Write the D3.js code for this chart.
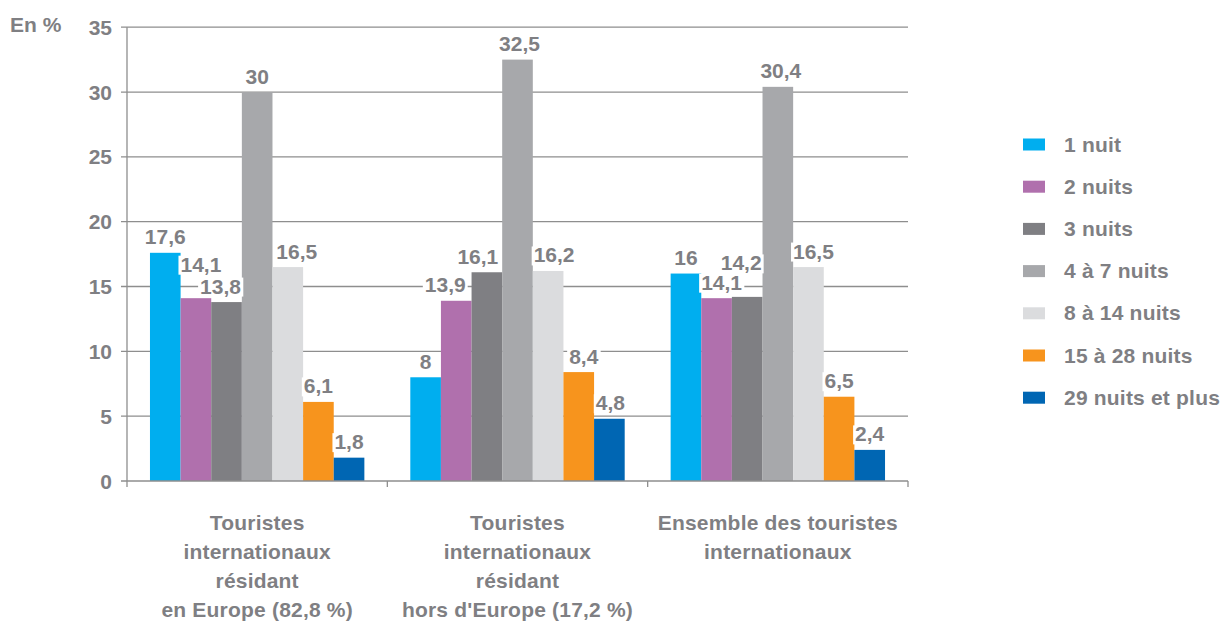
<!DOCTYPE html>
<html><head><meta charset="utf-8">
<script src="https://cdn.jsdelivr.net/npm/d3@7"></script>
<style>body{margin:0;background:#fff}svg{display:block}</style>
</head><body><svg id="c" width="1221" height="621"></svg>
<script>
// ---- data ----
const categories = [
  "Touristes\ninternationaux\nrésidant\nen Europe (82,8 %)",
  "Touristes\ninternationaux\nrésidant\nhors d'Europe (17,2 %)",
  "Ensemble des touristes\ninternationaux"
];
const series = ["1 nuit","2 nuits","3 nuits","4 à 7 nuits","8 à 14 nuits","15 à 28 nuits","29 nuits et plus"];
const valuesEurope = [17.6, 14.1, 13.8, 30, 16.5, 6.1, 1.8];
const valuesHorsEurope = [8, 13.9, 16.1, 32.5, 16.2, 8.4, 4.8];
const valuesEnsemble = [16, 14.1, 14.2, 30.4, 16.5, 6.5, 2.4];
const yTicks = [0, 5, 10, 15, 20, 25, 30, 35];
const yLabel = "En %";

// ---- styles / layout ----
const colors = ["#00aeef","#b070ad","#7f7f83","#a7a8ab","#dbdcde","#f7941d","#0066b3"];
const textColor = "#7f7f83";
const gridColor = "#8e8e8e";
const font = "'Liberation Sans', Arial, sans-serif";
// label nudges [dx, dy] per category, per series (as in the original layout)
const labelNudge = [
  [[0,0],[5,-18],[-6,0],[0,0],[9,0],[0,0],[0,0]],
  [[0,0],[-11,0],[-9,0],[2,0],[6,0],[5,0],[1,0]],
  [[0,0],[5,0],[-6,-18],[3,0],[5,0],[0,0],[0,0]]
];

const table = categories.map((c, i) => ({
  cat: c,
  vals: [valuesEurope, valuesHorsEurope, valuesEnsemble][i]
}));

const svg = d3.select("#c");
const x0 = d3.scaleBand().domain(d3.range(categories.length)).range([127, 908]).padding(0);
const x1 = d3.scaleBand().domain(d3.range(series.length)).range([0, x0.bandwidth()]).paddingInner(0).paddingOuter(0.75);
const y = d3.scaleLinear().domain([0, 35]).range([481, 27.2]);

// gridlines
svg.append("g").selectAll("line").data(yTicks.filter(t => t > 0)).join("line")
  .attr("x1", 121).attr("x2", 908)
  .attr("y1", d => y(d)).attr("y2", d => y(d))
  .attr("stroke", gridColor).attr("stroke-width", 1.3);

// bars
const groups = svg.append("g").selectAll("g").data(table).join("g")
  .attr("transform", (d, i) => `translate(${x0(i)},0)`);
groups.selectAll("rect").data(d => d.vals).join("rect")
  .attr("x", (d, j) => x1(j)).attr("width", x1.bandwidth())
  .attr("y", d => y(d)).attr("height", d => y(0) - y(d))
  .attr("fill", (d, j) => colors[j]);

// axes
const ax = svg.append("g").attr("stroke", gridColor).attr("stroke-width", 1.3);
ax.append("line").attr("x1", 127).attr("x2", 127).attr("y1", y(35)).attr("y2", y(0));
ax.append("line").attr("x1", 121).attr("x2", 908).attr("y1", y(0)).attr("y2", y(0));
const xTickPos = d3.range(categories.length).map(i => x0(i)).concat([x0.range()[1]]);
ax.selectAll(".xt").data(xTickPos).join("line").attr("class","xt")
  .attr("x1", d => d).attr("x2", d => d).attr("y1", y(0)).attr("y2", y(0) + 6);

// y tick labels
svg.append("g").selectAll("text").data(yTicks).join("text")
  .attr("x", 112).attr("y", d => y(d)).attr("dy", "0.36em")
  .attr("text-anchor", "end")
  .style("font", `bold 21px ${font}`).attr("fill", textColor)
  .text(d => d);
svg.append("text").attr("x", 10).attr("y", 32)
  .style("font", `bold 21px ${font}`).attr("fill", textColor).text(yLabel);

// value labels
const fmt = v => String(v).replace(".", ",");
groups.each(function(d, i) {
  const g = d3.select(this);
  d.vals.forEach((v, j) => {
    const [dx, dy] = labelNudge[i][j];
    const cx = x1(j) + x1.bandwidth() / 2 + dx;
    const by = y(v) - 8.5 + dy;
    const lg = g.append("g");
    const rect = lg.append("rect").attr("fill", "#fff");
    const t = lg.append("text").attr("x", cx).attr("y", by)
      .attr("text-anchor", "middle")
      .style("font", `bold 21px ${font}`)
      .attr("fill", textColor).text(fmt(v));
    const bb = t.node().getBBox();
    rect.attr("x", bb.x - 2).attr("y", bb.y + 3).attr("width", bb.width + 4).attr("height", bb.height - 4);
  });
});

// category labels
svg.append("g").selectAll("text").data(categories).join("text")
  .attr("text-anchor", "middle")
  .style("font", `bold 21px ${font}`).style("letter-spacing", "0.2px")
  .attr("fill", textColor)
  .each(function(d, i) {
    const cx = x0(i) + x0.bandwidth() / 2;
    d3.select(this).selectAll("tspan").data(d.split("\n")).join("tspan")
      .attr("x", cx).attr("y", (l, k) => 529.5 + k * 29.2).text(l => l);
  });

// legend
const leg = svg.append("g").selectAll("g").data(series).join("g")
  .attr("transform", (d, j) => `translate(1023,${144.5 + j * 42.2})`);
leg.append("rect").attr("x", 0).attr("y", -6).attr("width", 22).attr("height", 12)
  .attr("fill", (d, j) => colors[j]);
leg.append("text").attr("x", 41).attr("y", 0).attr("dy", "0.34em")
  .style("font", `bold 21px ${font}`).style("letter-spacing", "0.2px")
  .attr("fill", textColor).text(d => d);
</script>
</body></html>
